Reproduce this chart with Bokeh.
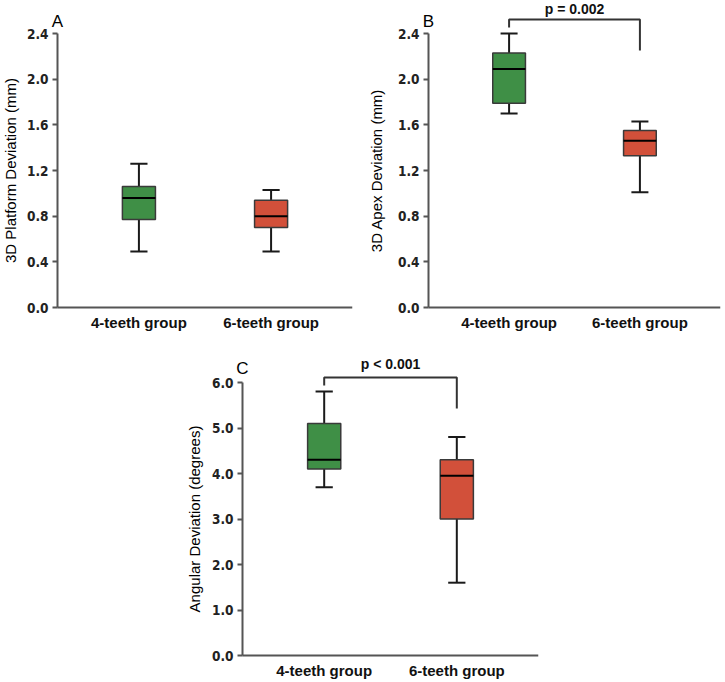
import math
from bokeh.plotting import figure
from bokeh.layouts import column, row
from bokeh.models import Range1d, FixedTicker, Spacer, NumeralTickFormatter, Label
from bokeh.embed import file_html
from bokeh.resources import INLINE

# ---------------- data ----------------
groups = ["4-teeth group", "6-teeth group"]
colors = ["#3f8f46", "#d2503a"]

platform_min = [0.49, 0.49]
platform_q1 = [0.77, 0.70]
platform_med = [0.96, 0.80]
platform_q3 = [1.06, 0.94]
platform_max = [1.26, 1.03]

apex_min = [1.70, 1.01]
apex_q1 = [1.79, 1.33]
apex_med = [2.09, 1.46]
apex_q3 = [2.23, 1.55]
apex_max = [2.40, 1.63]

angular_min = [3.7, 1.6]
angular_q1 = [4.1, 3.0]
angular_med = [4.3, 3.95]
angular_q3 = [5.1, 4.3]
angular_max = [5.8, 4.8]

mm_ticks = [0.0, 0.4, 0.8, 1.2, 1.6, 2.0, 2.4]
deg_ticks = [0.0, 1.0, 2.0, 3.0, 4.0, 5.0, 6.0]

p_labels = ["p = 0.002", "p < 0.001"]
panel_letters = ["A", "B", "C"]

FONT = "Liberation Sans"
NARROW = "DejaVu Sans Condensed"
BOX_W = 0.25
CAP_W = 0.13
X0, X1 = -0.616, 1.616   # data span of the plotted axis region


def make_panel(ylabel, ticks, mins, q1s, meds, q3s, maxs, letter,
               width, height, axis_px, b_right, top_px, bottom_px, title_px,
               letter_px, bracket=None):
    # horizontal scale
    frame_w = width - b_right
    per_px = (X1 - X0) / (frame_w - axis_px)
    xl = X0 - axis_px * per_px
    # vertical scale: axis top at top_px, axis zero at height - bottom_px
    ytop = ticks[-1]
    per_py = ytop / (height - bottom_px - top_px)
    y_end = ytop + top_px * per_py
    y_start = -bottom_px * per_py

    def py(px_from_top):
        return ytop + (top_px - px_from_top) * per_py

    p = figure(width=width, height=height, output_backend="svg", toolbar_location=None,
               x_range=Range1d(xl, X1), y_range=Range1d(y_start, y_end),
               min_border_left=0, min_border_right=b_right,
               min_border_top=0, min_border_bottom=0)
    p.outline_line_color = None
    p.grid.visible = False
    p.background_fill_color = "white"
    p.border_fill_color = "white"

    xs = list(range(len(groups)))
    # whiskers
    p.segment(x0=xs, x1=xs, y0=q3s, y1=maxs, line_color="#1a1a1a", line_width=2)
    p.segment(x0=xs, x1=xs, y0=q1s, y1=mins, line_color="#1a1a1a", line_width=2)
    # caps
    p.segment(x0=[x - CAP_W / 2 for x in xs], x1=[x + CAP_W / 2 for x in xs],
              y0=maxs, y1=maxs, line_color="#1a1a1a", line_width=2)
    p.segment(x0=[x - CAP_W / 2 for x in xs], x1=[x + CAP_W / 2 for x in xs],
              y0=mins, y1=mins, line_color="#1a1a1a", line_width=2)
    # boxes
    p.vbar(x=xs, width=BOX_W, bottom=q1s, top=q3s, fill_color=colors,
           line_color="#3a3a3a", line_width=1.5)
    # medians
    p.segment(x0=[x - BOX_W / 2 for x in xs], x1=[x + BOX_W / 2 for x in xs],
              y0=meds, y1=meds, line_color="black", line_width=2)

    # y axis, placed inside the frame
    ya = p.yaxis[0]
    ya.fixed_location = X0
    ya.ticker = FixedTicker(ticks=ticks)
    ya.formatter = NumeralTickFormatter(format="0.0")
    ya.bounds = (ticks[0], ticks[-1])
    ya.axis_line_color = "#555555"
    ya.axis_line_width = 2
    ya.major_tick_line_color = "#555555"
    ya.major_tick_line_width = 2
    ya.major_tick_out = 5
    ya.major_tick_in = 0
    ya.minor_tick_line_color = None
    ya.major_label_text_font = NARROW
    ya.major_label_text_font_style = "bold"
    ya.major_label_text_font_size = "13.5px"
    ya.major_label_text_color = "#222222"
    ya.major_label_standoff = 4
    ya.axis_label = None
    ya.axis_label_standoff = 0

    # x axis, placed inside the frame at y = 0
    xa = p.xaxis[0]
    xa.fixed_location = 0
    xa.bounds = (X0, X1)
    xa.ticker = FixedTicker(ticks=xs)
    xa.major_label_overrides = {i: g for i, g in enumerate(groups)}
    xa.axis_line_color = "#555555"
    xa.axis_line_width = 2
    xa.major_tick_line_color = None
    xa.major_tick_out = 0
    xa.major_tick_in = 0
    xa.minor_tick_line_color = None
    xa.minor_tick_out = 0
    xa.major_label_text_font = FONT
    xa.major_label_text_font_style = "bold"
    xa.major_label_text_font_size = "15px"
    xa.major_label_text_color = "#111111"
    xa.major_label_standoff = 6
    xa.axis_label = None
    xa.axis_label_standoff = 0

    # y-axis title
    p.add_layout(Label(x=xl + title_px * per_px, y=(ticks[0] + ticks[-1]) / 2,
                       text=ylabel, angle=math.pi / 2, text_align="center",
                       text_baseline="middle", text_font=FONT, text_font_size="15px",
                       text_color="#000000"))
    # panel letter
    p.add_layout(Label(x=X0, y=py(letter_px), text=letter, text_font=FONT,
                       text_font_size="17px", text_align="center", text_baseline="middle",
                       text_color="black"))

    if bracket is not None:
        label, text_px, bar_px, left_px, right_px = bracket
        p.line(x=[0, 0, 1, 1], y=[py(left_px), py(bar_px), py(bar_px), py(right_px)],
               line_color="#333333", line_width=2)
        p.add_layout(Label(x=0.5, y=py(text_px), text=label, text_font=FONT,
                           text_font_style="bold", text_font_size="14px", text_align="center",
                           text_baseline="middle", text_color="#111111"))
    return p


pA = make_panel("3D Platform Deviation (mm)", mm_ticks,
                platform_min, platform_q1, platform_med, platform_q3, platform_max,
                panel_letters[0], width=358, height=337, axis_px=57, b_right=6,
                top_px=33, bottom_px=30, title_px=10, letter_px=21)

pB = make_panel("3D Apex Deviation (mm)", mm_ticks,
                apex_min, apex_q1, apex_med, apex_q3, apex_max,
                panel_letters[1], width=366, height=337, axis_px=70, b_right=4,
                top_px=33, bottom_px=30, title_px=18, letter_px=21,
                bracket=(p_labels[0], 8, 19, 27, 50))

pC = make_panel("Angular Deviation (degrees)", deg_ticks,
                angular_min, angular_q1, angular_med, angular_q3, angular_max,
                panel_letters[2], width=365, height=344, axis_px=62, b_right=7,
                top_px=45, bottom_px=26, title_px=14, letter_px=31,
                bracket=(p_labels[1], 26, 40, 48, 71))

layout = column(row(pA, pB), row(Spacer(width=180, height=344), pC))

open("out.html", "w").write(file_html(layout, INLINE))
